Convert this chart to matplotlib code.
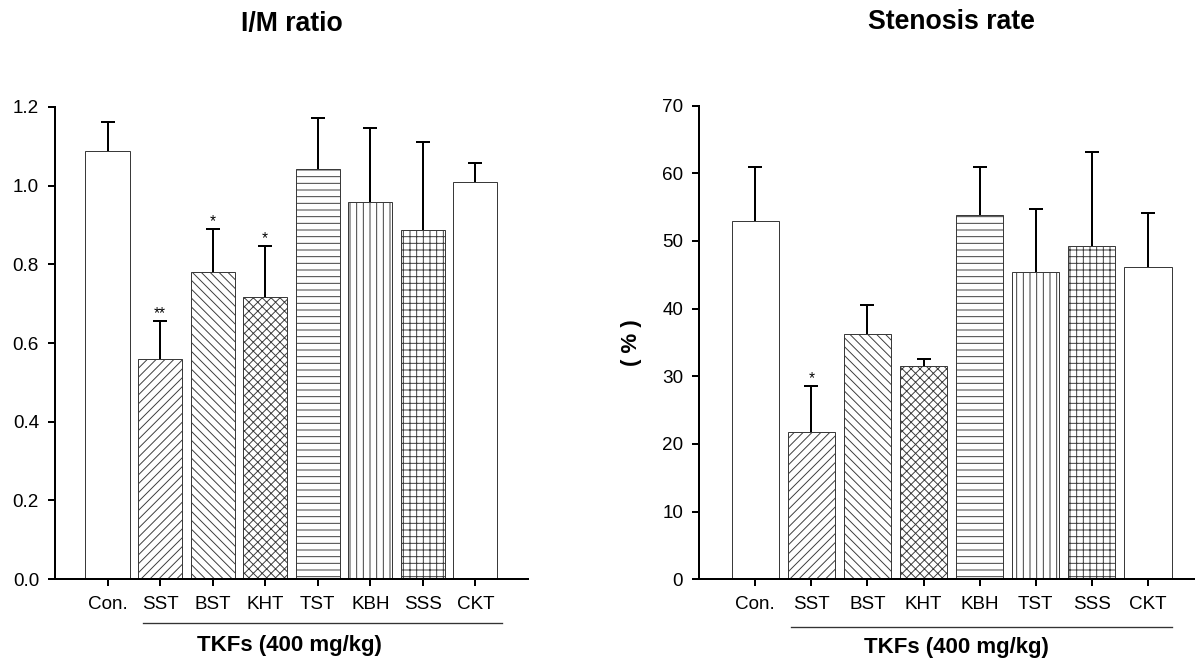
import numpy as np
import matplotlib
matplotlib.use("Agg")
import matplotlib.pyplot as plt

# data
im_groups = ["Con.", "SST", "BST", "KHT", "TST", "KBH", "SSS", "CKT"]
im_mean = [1.089, 0.559, 0.780, 0.718, 1.043, 0.958, 0.887, 1.009]
im_err = [0.072, 0.096, 0.109, 0.129, 0.128, 0.188, 0.225, 0.049]
im_sig = ["", "**", "*", "*", "", "", "", ""]

sr_groups = ["Con.", "SST", "BST", "KHT", "KBH", "TST", "SSS", "CKT"]
sr_mean = [52.9, 21.7, 36.2, 31.5, 53.9, 45.4, 49.3, 46.2]
sr_err = [8.0, 6.8, 4.4, 1.0, 7.0, 9.3, 13.8, 8.0]
sr_sig = ["", "*", "", "", "", "", "", ""]

hatches = ["", "///", "\\\\\\", "xxx", "--", "||", "++", ""]

DPI = 80
plt.rcParams["font.family"] = ["Liberation Sans", "DejaVu Sans"]
plt.rcParams["hatch.linewidth"] = 0.85

fig = plt.figure(figsize=(1195 / DPI, 658 / DPI), dpi=DPI)
ax1 = fig.add_axes([0.046, 0.12, 0.3958, 0.7174])
ax2 = fig.add_axes([0.585, 0.1196, 0.4226, 0.7198])


def draw(ax, groups, mean, err, sig, ylim, yticks, fmt, title, line_y, lab_x, lab_y, line_x):
    x = np.arange(len(groups))
    mean = np.array(mean)
    top = mean + np.array(err)
    ax.bar(x, mean, width=0.84, color="white", edgecolor="#3a3a3a",
           linewidth=0.9, hatch=hatches, zorder=2)
    # upper error bars only, no cap at the bar top
    ax.vlines(x, mean, top, color="black", linewidth=1.8, zorder=3)
    ax.plot(x, top, linestyle="none", marker="_", markersize=13,
            markeredgewidth=1.8, color="black", zorder=3)
    for xi, t, s in zip(x, top, sig):
        if s:
            ax.annotate(s, (xi, t), xytext=(0, 0), textcoords="offset points",
                        ha="center", va="bottom", fontsize=14)
    ax.set_xlim(-1, 8)
    ax.set_ylim(*ylim)
    ax.set_yticks(yticks)
    ax.set_yticklabels([fmt % v for v in yticks])
    ax.set_xticks(x)
    ax.set_xticklabels(groups)
    for s in ["top", "right"]:
        ax.spines[s].set_visible(False)
    for s in ["left", "bottom"]:
        ax.spines[s].set_linewidth(1.8)
    ax.tick_params(axis="both", direction="out", length=6.3, width=1.8,
                   labelsize=17, colors="black")
    ax.tick_params(axis="x", pad=9)
    ax.tick_params(axis="y", pad=8)
    ax.text(0.5, 1.176, title, transform=ax.transAxes, ha="center", va="center",
            fontsize=24, fontweight="bold")
    trans = ax.get_xaxis_transform()
    ax.plot(line_x, [line_y, line_y], transform=trans, color="#333333",
            linewidth=1.2, clip_on=False)
    ax.text(lab_x, lab_y, "TKFs (400 mg/kg)", transform=trans, ha="center",
            va="center", fontsize=20, fontweight="bold")


draw(ax1, im_groups, im_mean, im_err, im_sig, (0, 1.2),
     [0.0, 0.2, 0.4, 0.6, 0.8, 1.0, 1.2], "%.1f", "I/M ratio",
     -0.093, 3.47, -0.14, [0.68, 7.51])
draw(ax2, sr_groups, sr_mean, sr_err, sr_sig, (0, 70),
     [0, 10, 20, 30, 40, 50, 60, 70], "%d", "Stenosis rate",
     -0.1007, 3.58, -0.143, [0.63, 7.43])
ax2.text(-0.133, 0.5, "( % )", transform=ax2.transAxes, rotation=90,
         ha="center", va="center", fontsize=20, fontweight="bold")

fig.savefig("out.png", dpi=DPI)
